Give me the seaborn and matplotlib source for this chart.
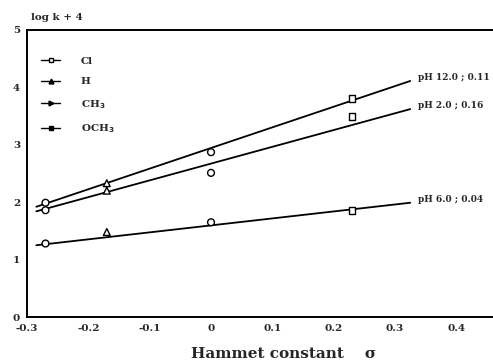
import matplotlib
matplotlib.use("Agg")
import matplotlib.pyplot as plt
import seaborn as sns
import pandas as pd
from matplotlib.lines import Line2D

# Data
substituents = ["OCH$_3$", "CH$_3$", "H", "Cl"]
sigma = [-0.27, -0.17, 0.0, 0.23]
logk_pH12 = [1.99, 2.33, 2.87, 3.80]
logk_pH2 = [1.86, 2.20, 2.51, 3.49]
logk_pH6 = [1.28, 1.48, 1.65, 1.86]

# fitted lines (end points)
fit_x = [-0.285, 0.325]
fit_pH12 = [1.92, 4.11]
fit_pH2 = [1.84, 3.62]
fit_pH6 = [1.25, 1.99]

line_labels = ["pH 12.0 ; 0.11", "pH 2.0 ; 0.16", "pH 6.0 ; 0.04"]
legend_labels = ["Cl", "H", "CH$_3$", "OCH$_3$"]
xticks = [-0.3, -0.2, -0.1, 0, 0.1, 0.2, 0.3, 0.4]
xtick_labels = ["-0.3", "-0.2", "-0.1", "0", "0.1", "0.2", "0.3", "0.4"]
yticks = [0, 1, 2, 3, 4, 5]

sns.set_style("white")
plt.rcParams["font.family"] = ["DejaVu Serif"]
plt.rcParams["font.weight"] = "bold"

fig = plt.figure(figsize=(4.93, 3.64), dpi=100)
ax = fig.add_axes([0.055, 0.129, 0.945, 0.789])

markers = {"OCH$_3$": "o", "CH$_3$": "^", "H": "o", "Cl": "s"}

pts = pd.DataFrame({
    "sigma": sigma * 3,
    "logk": logk_pH12 + logk_pH2 + logk_pH6,
    "sub": substituents * 3,
})
sns.scatterplot(data=pts, x="sigma", y="logk", style="sub", markers=markers,
                s=24, facecolor="white", edgecolor="black", linewidth=1.0,
                legend=False, ax=ax, zorder=3)

fits = pd.DataFrame({
    "x": fit_x * 3,
    "y": fit_pH12 + fit_pH2 + fit_pH6,
    "series": [line_labels[0]] * 2 + [line_labels[1]] * 2 + [line_labels[2]] * 2,
})
for lab in line_labels:
    d = fits[fits["series"] == lab]
    sns.lineplot(data=d, x="x", y="y", color="black", linewidth=1.3, ax=ax, zorder=2)
    ax.text(d["x"].iloc[-1] + 0.012, d["y"].iloc[-1] + 0.06, lab, fontsize=6.5,
            fontweight="bold", ha="left", va="center")

ax.set_xlim(-0.3, 0.46)
ax.set_ylim(0, 5)
ax.set_xticks(xticks)
ax.set_xticklabels(xtick_labels)
ax.set_yticks(yticks)
ax.tick_params(direction="in", length=4, width=1, labelsize=7.5, pad=5)
for lab in ax.get_xticklabels() + ax.get_yticklabels():
    lab.set_fontweight("bold")
ax.set_xlabel("")
ax.set_ylabel("")
for s in ["left", "bottom", "top"]:
    ax.spines[s].set_color("black")
    ax.spines[s].set_linewidth(1.4)
ax.spines["right"].set_visible(False)

fig.text(0.063, 0.952, "log k + 4", fontsize=7.5, fontweight="bold", ha="left", va="center")
fig.text(0.575, 0.028, "Hammet constant    \u03c3", fontsize=11, fontweight="bold",
         ha="center", va="center")

handles = [
    Line2D([], [], color="black", marker="s", markersize=3, mfc="white", lw=1),
    Line2D([], [], color="black", marker="^", markersize=3.5, mfc="black", lw=1),
    Line2D([], [], color="black", marker=">", markersize=3.5, mfc="black", lw=1),
    Line2D([], [], color="black", marker="s", markersize=3, mfc="black", lw=1),
]
ax.legend(handles, legend_labels, loc="upper left", bbox_to_anchor=(0.01, 0.94),
          frameon=False, handlelength=1.8, labelspacing=1.1,
          handletextpad=2.0, prop={"weight": "bold", "size": 7.5})

fig.savefig("out.png", dpi=100)
